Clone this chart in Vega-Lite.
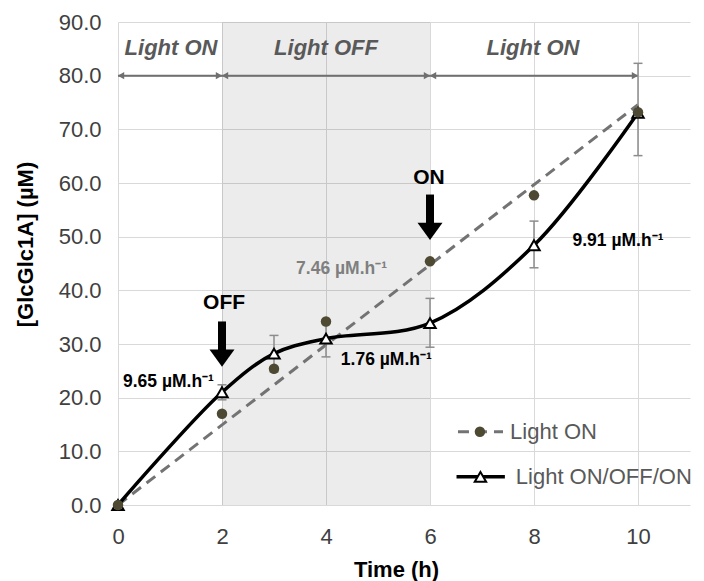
{
  "$schema": "https://vega.github.io/schema/vega-lite/v6.json",
  "autosize": "none",
  "width": 572,
  "height": 483,
  "padding": {"left": 118, "top": 22, "right": 14, "bottom": 76},
  "background": "white",
  "config": {
    "view": {"stroke": null},
    "font": "Liberation Sans",
    "axis": {
      "grid": true, "gridColor": "#d9d9d9", "gridWidth": 1,
      "domain": false, "ticks": false, "labelFlush": false, "labelOverlap": false,
      "labelFont": "Liberation Sans", "labelFontSize": 22, "labelColor": "#404040",
      "titleFont": "Liberation Sans", "titleFontSize": 22, "titleFontWeight": "bold", "titleColor": "#000000"
    }
  },
  "datasets": {
    "pts": [
      {"t": 0, "s": "Light ON", "v": 0},
      {"t": 2, "s": "Light ON", "v": 17.0},
      {"t": 3, "s": "Light ON", "v": 25.4},
      {"t": 4, "s": "Light ON", "v": 34.2},
      {"t": 6, "s": "Light ON", "v": 45.4},
      {"t": 8, "s": "Light ON", "v": 57.7},
      {"t": 10, "s": "Light ON", "v": 73.2},
      {"t": 0, "s": "Light ON/OFF/ON", "v": 0},
      {"t": 2, "s": "Light ON/OFF/ON", "v": 21.0, "lo": 19.6, "hi": 22.4},
      {"t": 3, "s": "Light ON/OFF/ON", "v": 28.2, "lo": 24.8, "hi": 31.6},
      {"t": 4, "s": "Light ON/OFF/ON", "v": 31.0, "lo": 27.6, "hi": 34.4},
      {"t": 6, "s": "Light ON/OFF/ON", "v": 33.9, "lo": 29.4, "hi": 38.5},
      {"t": 8, "s": "Light ON/OFF/ON", "v": 48.4, "lo": 44.2, "hi": 52.9},
      {"t": 10, "s": "Light ON/OFF/ON", "v": 73.1, "lo": 65.1, "hi": 82.3}
    ],
    "fit": [{"t": 0, "v": 0}, {"t": 10, "v": 74.6}],
    "periods": [
      {"a": 0, "b": 2, "m": 1.02, "label": "Light ON"},
      {"a": 2, "b": 6, "m": 4.0, "label": "Light OFF"},
      {"a": 6, "b": 10, "m": 7.98, "label": "Light ON"}
    ],
    "rates": [
      {"t": 0.97, "v": 22.9, "label": "9.65 µM.h⁻¹", "c": "black"},
      {"t": 4.30, "v": 43.9, "label": "7.46 µM.h⁻¹", "c": "gray"},
      {"t": 5.16, "v": 27.1, "label": "1.76 µM.h⁻¹", "c": "black"},
      {"t": 9.615, "v": 49.2, "label": "9.91 µM.h⁻¹", "c": "black"}
    ],
    "switches": [
      {"t": 2, "tt": 2.04, "top": 34.2, "end": 28.6, "head": 27.35, "tv": 37.7, "label": "OFF"},
      {"t": 6, "tt": 5.98, "top": 57.85, "end": 52.3, "head": 51.0, "tv": 61.0, "label": "ON"}
    ],
    "legend": [
      {"s": "Light ON", "x0": 6.538, "x1": 7.404, "xm": 6.96, "xt": 7.54, "y": 13.64},
      {"s": "Light ON/OFF/ON", "x0": 6.51, "x1": 7.44, "xm": 6.97, "xt": 7.65, "y": 5.25}
    ]
  },
  "encoding": {
    "x": {"type": "quantitative", "scale": {"domain": [0, 11], "nice": false, "zero": false}},
    "y": {"type": "quantitative", "scale": {"domain": [0, 90], "nice": false}}
  },
  "layer": [
    {
      "data": {"values": [{"x0": 2, "x1": 6, "y0": 0, "y1": 90}]},
      "mark": {"type": "rect", "fill": "#000000", "fillOpacity": 0.075},
      "encoding": {
        "x": {"field": "x0", "type": "quantitative",
          "axis": {"values": [0, 2, 4, 6, 8, 10], "title": "Time (h)", "labelPadding": 21, "titleX": 278, "titleY": 64, "titleBaseline": "middle"}},
        "x2": {"field": "x1"},
        "y": {"field": "y0", "type": "quantitative",
          "axis": {"values": [0, 10, 20, 30, 40, 50, 60, 70, 80, 90], "format": ".1f", "title": "[GlcGlc1A] (µM)", "labelPadding": 17, "titleX": -93, "titleY": 222, "titleAngle": -90, "titleAlign": "center", "titleBaseline": "middle"}},
        "y2": {"field": "y1"}
      }
    },
    {
      "data": {"name": "periods"},
      "mark": {"type": "rule", "color": "#6f6f6f", "strokeWidth": 2},
      "encoding": {
        "x": {"field": "a", "type": "quantitative"},
        "x2": {"field": "b"},
        "y": {"datum": 80, "type": "quantitative"}
      }
    },
    {
      "data": {"name": "periods"},
      "mark": {"type": "point", "shape": "triangle-left", "filled": true, "color": "#6f6f6f", "size": 55, "opacity": 1, "xOffset": 3},
      "encoding": {
        "x": {"field": "a", "type": "quantitative"},
        "y": {"datum": 80, "type": "quantitative"}
      }
    },
    {
      "data": {"name": "periods"},
      "mark": {"type": "point", "shape": "triangle-right", "filled": true, "color": "#6f6f6f", "size": 55, "opacity": 1, "xOffset": -3},
      "encoding": {
        "x": {"field": "b", "type": "quantitative"},
        "y": {"datum": 80, "type": "quantitative"}
      }
    },
    {
      "data": {"name": "periods"},
      "mark": {"type": "text", "font": "Liberation Sans", "fontSize": 22, "fontWeight": "bold", "fontStyle": "italic", "color": "#595959", "align": "center", "baseline": "middle"},
      "encoding": {
        "x": {"field": "m", "type": "quantitative"},
        "y": {"datum": 85.1, "type": "quantitative"},
        "text": {"field": "label"}
      }
    },
    {
      "data": {"name": "fit"},
      "mark": {"type": "line", "color": "#737373", "strokeWidth": 3, "strokeDash": [11, 7]},
      "encoding": {
        "x": {"field": "t", "type": "quantitative"},
        "y": {"field": "v", "type": "quantitative"}
      }
    },
    {
      "data": {"name": "pts"},
      "transform": [{"filter": "isValid(datum.lo)"}],
      "mark": {"type": "rule", "color": "#8c8c8c", "strokeWidth": 1.5},
      "encoding": {
        "x": {"field": "t", "type": "quantitative"},
        "y": {"field": "lo", "type": "quantitative"},
        "y2": {"field": "hi"}
      }
    },
    {
      "data": {"name": "pts"},
      "transform": [{"filter": "isValid(datum.lo)"}, {"fold": ["lo", "hi"], "as": ["k", "e"]}],
      "mark": {"type": "tick", "orient": "horizontal", "color": "#8c8c8c", "size": 9, "thickness": 1.5, "opacity": 1},
      "encoding": {
        "x": {"field": "t", "type": "quantitative"},
        "y": {"field": "e", "type": "quantitative"}
      }
    },
    {
      "data": {"name": "pts"},
      "transform": [{"filter": "datum.s === 'Light ON/OFF/ON'"}],
      "mark": {"type": "line", "color": "#000000", "strokeWidth": 3.5, "interpolate": "catmull-rom"},
      "encoding": {
        "x": {"field": "t", "type": "quantitative"},
        "y": {"field": "v", "type": "quantitative"}
      }
    },
    {
      "data": {"name": "pts"},
      "transform": [{"filter": "datum.s === 'Light ON/OFF/ON'"}],
      "mark": {"type": "point", "shape": "triangle-up", "filled": true, "fill": "#ffffff", "stroke": "#000000", "strokeWidth": 2, "size": 130, "opacity": 1},
      "encoding": {
        "x": {"field": "t", "type": "quantitative"},
        "y": {"field": "v", "type": "quantitative"}
      }
    },
    {
      "data": {"name": "pts"},
      "transform": [{"filter": "datum.s === 'Light ON'"}],
      "mark": {"type": "circle", "color": "#4d4932", "size": 110, "opacity": 1},
      "encoding": {
        "x": {"field": "t", "type": "quantitative"},
        "y": {"field": "v", "type": "quantitative"}
      }
    },
    {
      "data": {"name": "switches"},
      "mark": {"type": "rule", "color": "#000000", "strokeWidth": 8, "strokeCap": "butt"},
      "encoding": {
        "x": {"field": "t", "type": "quantitative"},
        "y": {"field": "top", "type": "quantitative"},
        "y2": {"field": "end"}
      }
    },
    {
      "data": {"name": "switches"},
      "mark": {"type": "point", "shape": "M-1,-0.69L1,-0.69L0,0.69Z", "filled": true, "color": "#000000", "size": 625, "opacity": 1},
      "encoding": {
        "x": {"field": "t", "type": "quantitative"},
        "y": {"field": "head", "type": "quantitative"}
      }
    },
    {
      "data": {"name": "switches"},
      "mark": {"type": "text", "font": "Liberation Sans", "fontSize": 21, "fontWeight": "bold", "color": "#000000", "align": "center", "baseline": "middle"},
      "encoding": {
        "x": {"field": "tt", "type": "quantitative"},
        "y": {"field": "tv", "type": "quantitative"},
        "text": {"field": "label"}
      }
    },
    {
      "data": {"name": "rates"},
      "mark": {"type": "text", "font": "Liberation Sans", "fontSize": 17.5, "fontWeight": "bold", "align": "center", "baseline": "middle"},
      "encoding": {
        "x": {"field": "t", "type": "quantitative"},
        "y": {"field": "v", "type": "quantitative"},
        "text": {"field": "label"},
        "color": {"field": "c", "type": "nominal", "scale": {"domain": ["black", "gray"], "range": ["#000000", "#7f7f7f"]}, "legend": null}
      }
    },
    {
      "data": {"name": "legend"},
      "transform": [{"filter": "datum.s === 'Light ON'"}],
      "mark": {"type": "rule", "color": "#737373", "strokeWidth": 3, "strokeDash": [11, 7]},
      "encoding": {
        "x": {"field": "x0", "type": "quantitative"},
        "x2": {"field": "x1"},
        "y": {"field": "y", "type": "quantitative"}
      }
    },
    {
      "data": {"name": "legend"},
      "transform": [{"filter": "datum.s === 'Light ON/OFF/ON'"}],
      "mark": {"type": "rule", "color": "#000000", "strokeWidth": 3.5},
      "encoding": {
        "x": {"field": "x0", "type": "quantitative"},
        "x2": {"field": "x1"},
        "y": {"field": "y", "type": "quantitative"}
      }
    },
    {
      "data": {"name": "legend"},
      "transform": [{"filter": "datum.s === 'Light ON'"}],
      "mark": {"type": "circle", "color": "#4d4932", "size": 110, "opacity": 1},
      "encoding": {
        "x": {"field": "xm", "type": "quantitative"},
        "y": {"field": "y", "type": "quantitative"}
      }
    },
    {
      "data": {"name": "legend"},
      "transform": [{"filter": "datum.s === 'Light ON/OFF/ON'"}],
      "mark": {"type": "point", "shape": "triangle-up", "filled": true, "fill": "#ffffff", "stroke": "#000000", "strokeWidth": 2, "size": 130, "opacity": 1},
      "encoding": {
        "x": {"field": "xm", "type": "quantitative"},
        "y": {"field": "y", "type": "quantitative"}
      }
    },
    {
      "data": {"name": "legend"},
      "mark": {"type": "text", "font": "Liberation Sans", "fontSize": 22, "color": "#595959", "align": "left", "baseline": "middle"},
      "encoding": {
        "x": {"field": "xt", "type": "quantitative"},
        "y": {"field": "y", "type": "quantitative"},
        "text": {"field": "s"}
      }
    }
  ]
}
